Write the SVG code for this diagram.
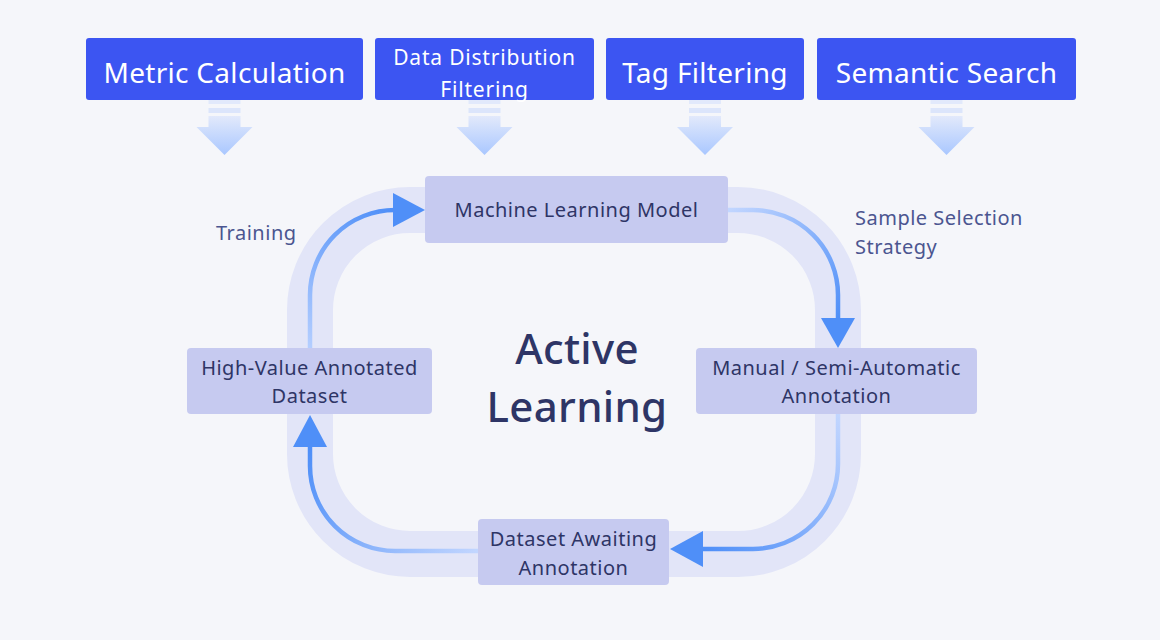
<svg xmlns="http://www.w3.org/2000/svg" width="1160" height="640" viewBox="0 0 1160 640">
<defs>
<style>
.top{fill:#3c55f2;}
.toptxt{fill:#ffffff;font-family:"Noto Sans","Liberation Sans",sans-serif;text-anchor:middle;}
.big{font-size:28px;letter-spacing:0.3px;}
.mid{font-size:21px;letter-spacing:0.8px;}
.node{fill:#c6caf0;}
.ntxt{fill:#2e3566;font-family:"Noto Sans","Liberation Sans",sans-serif;font-size:20px;letter-spacing:0.5px;text-anchor:middle;}
.lbl{fill:#4b5590;font-family:"Noto Sans","Liberation Sans",sans-serif;font-size:20px;letter-spacing:0.5px;}
.title{fill:#2e3566;font-family:"Noto Sans","Liberation Sans",sans-serif;font-size:42px;font-weight:500;letter-spacing:0.3px;text-anchor:middle;}
.conn{fill:none;stroke-width:4.5;stroke-linecap:butt;}
.head{fill:#4f8ff8;}
</style>
<linearGradient id="dn" x1="0" y1="0" x2="0" y2="1">
<stop offset="0" stop-color="#e2e9fb"/>
<stop offset="1" stop-color="#a9c7ff"/>
</linearGradient>
<linearGradient id="gTL" gradientUnits="userSpaceOnUse" x1="310" y1="348" x2="395" y2="210">
<stop offset="0" stop-color="#b4ceff"/>
<stop offset="1" stop-color="#4f8ff8"/>
</linearGradient>
<linearGradient id="gTR" gradientUnits="userSpaceOnUse" x1="728" y1="210" x2="838" y2="320">
<stop offset="0" stop-color="#c2d6ff"/>
<stop offset="1" stop-color="#4f8ff8"/>
</linearGradient>
<linearGradient id="gBR" gradientUnits="userSpaceOnUse" x1="838" y1="414" x2="703" y2="549">
<stop offset="0" stop-color="#c2d6ff"/>
<stop offset="1" stop-color="#4f8ff8"/>
</linearGradient>
<linearGradient id="gBL" gradientUnits="userSpaceOnUse" x1="478" y1="551" x2="310" y2="447">
<stop offset="0" stop-color="#c2d6ff"/>
<stop offset="1" stop-color="#4f8ff8"/>
</linearGradient>
<g id="downArrow">
<rect x="-16" y="0" width="32" height="4" fill="#e2e9fb"/>
<rect x="-16" y="8" width="32" height="5" fill="#dce5fb"/>
<path d="M-16 16 H16 V27 H28 L0 55 L-28 27 H-16 Z" fill="url(#dn)"/>
</g>
</defs>
<rect width="1160" height="640" fill="#f5f6fa"/>

<g id="band">
<rect x="310" y="210" width="528" height="344" rx="100" ry="100" fill="none" stroke="#e2e5f8" stroke-width="46"/>
</g>

<g id="top-metric">
<rect class="top" x="86" y="38" width="277" height="62" rx="3"/>
<text class="toptxt big" x="224.5" y="83">Metric Calculation</text>
<use href="#downArrow" x="224.5" y="100"/>
</g>
<g id="top-distribution">
<rect class="top" x="375" y="38" width="219" height="62" rx="3"/>
<text class="toptxt mid" x="484.5" y="65">Data Distribution</text>
<text class="toptxt mid" x="484.5" y="97">Filtering</text>
<use href="#downArrow" x="484.5" y="100"/>
</g>
<g id="top-tag">
<rect class="top" x="606" y="38" width="198" height="62" rx="3"/>
<text class="toptxt big" x="705" y="83">Tag Filtering</text>
<use href="#downArrow" x="705" y="100"/>
</g>
<g id="top-semantic">
<rect class="top" x="817" y="38" width="259" height="62" rx="3"/>
<text class="toptxt big" x="946.5" y="83">Semantic Search</text>
<use href="#downArrow" x="946.5" y="100"/>
</g>

<g id="connectors">
<path class="conn" stroke="url(#gTL)" d="M310 348 V295 A85 85 0 0 1 395 210"/>
<polygon class="head" points="393,193 425,210 393,227"/>
<path class="conn" stroke="url(#gTR)" d="M728 210 H753 A85 85 0 0 1 838 295 V320"/>
<polygon class="head" points="821,318 855,318 838,348"/>
<path class="conn" stroke="url(#gBR)" d="M838 414 V464 A85 85 0 0 1 753 549 H703"/>
<polygon class="head" points="703,531 703,567 670,549"/>
<path class="conn" stroke="url(#gBL)" d="M478 551 H395 A85 85 0 0 1 310 466 V447"/>
<polygon class="head" points="293,447 327,447 310,415"/>
</g>

<g id="node-model">
<rect class="node" x="425" y="176" width="303" height="67" rx="4"/>
<text class="ntxt" x="576.5" y="217">Machine Learning Model</text>
</g>
<g id="node-highvalue">
<rect class="node" x="187" y="348" width="245" height="66" rx="4"/>
<text class="ntxt" x="309.5" y="375">High-Value Annotated</text>
<text class="ntxt" x="309.5" y="403">Dataset</text>
</g>
<g id="node-manual">
<rect class="node" x="696" y="348" width="281" height="66" rx="4"/>
<text class="ntxt" x="836.5" y="375">Manual / Semi-Automatic</text>
<text class="ntxt" x="836.5" y="403">Annotation</text>
</g>
<g id="node-awaiting">
<rect class="node" x="478" y="519" width="191" height="66" rx="4"/>
<text class="ntxt" x="573.5" y="546">Dataset Awaiting</text>
<text class="ntxt" x="573.5" y="575">Annotation</text>
</g>

<g id="labels">
<text class="lbl" x="216" y="240">Training</text>
<text class="lbl" x="855" y="225">Sample Selection</text>
<text class="lbl" x="855" y="254">Strategy</text>
<text class="title" x="577" y="364">Active</text>
<text class="title" x="577" y="422">Learning</text>
</g>
</svg>
